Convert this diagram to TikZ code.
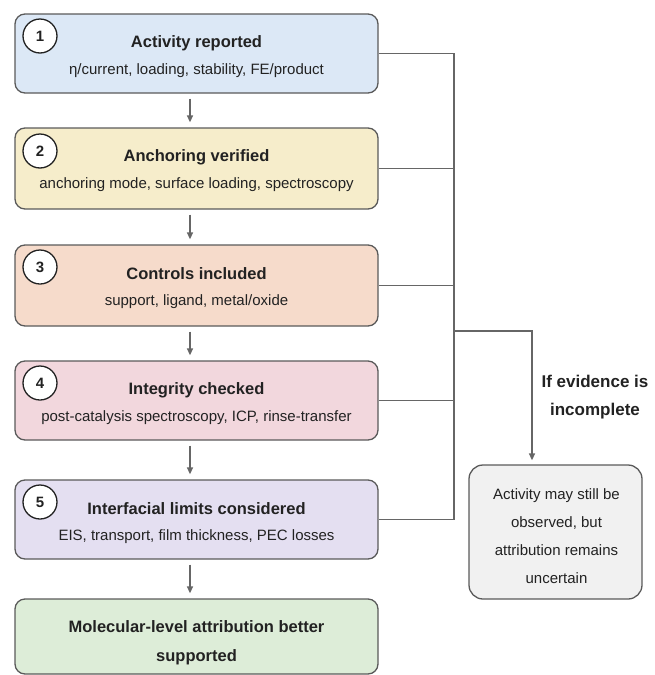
\documentclass[tikz,border=0pt]{standalone}
\usepackage{fontspec}
\setmainfont{Liberation Sans}
\usetikzlibrary{arrows.meta,calc}
\definecolor{cA}{HTML}{DCE8F6}
\definecolor{cB}{HTML}{F6EDCB}
\definecolor{cC}{HTML}{F6DBCB}
\definecolor{cD}{HTML}{F2D7DD}
\definecolor{cE}{HTML}{E4DFF1}
\definecolor{cF}{HTML}{DDEDD8}
\definecolor{cG}{HTML}{F1F1F1}
\definecolor{boxline}{HTML}{5A5A5A}
\definecolor{linec}{HTML}{666666}
\definecolor{txt}{HTML}{222222}
\tikzset{
  stepbox/.style={draw=boxline, line width=1.3pt, rounded corners=10pt, minimum width=363pt, inner sep=0pt},
  numcirc/.style={circle, draw=txt, fill=white, line width=1.3pt, minimum size=34pt, inner sep=0pt, text=txt, font=\fontsize{15}{18}\selectfont\bfseries},
  ttl/.style={font=\fontsize{16.5}{20}\selectfont\bfseries, text=txt, inner sep=0pt},
  sub/.style={font=\fontsize{15}{18}\selectfont, text=txt, inner sep=0pt},
  conn/.style={draw=linec, line width=1.4pt},
  arr/.style={draw=linec, line width=1.4pt, -{Triangle[width=6pt,length=7pt]}},
}
\begin{document}
\begin{tikzpicture}[x=1pt,y=-1pt]
\useasboundingbox (0,0) rectangle (654,675);
% step boxes
\node[stepbox, fill=cA, minimum height=79pt] (b1) at (196.5,53.5) {};
\node[stepbox, fill=cB, minimum height=81pt] (b2) at (196.5,168.5) {};
\node[stepbox, fill=cC, minimum height=81pt] (b3) at (196.5,285.5) {};
\node[stepbox, fill=cD, minimum height=79pt] (b4) at (196.5,400.5) {};
\node[stepbox, fill=cE, minimum height=79pt] (b5) at (196.5,519.5) {};
\node[stepbox, fill=cF, minimum height=75pt] (b6) at (196.5,636.5) {};
% numbers
\node[numcirc] (n1) at (40,36) {1};
\node[numcirc] (n2) at (40,151) {2};
\node[numcirc] (n3) at (40,267) {3};
\node[numcirc] (n4) at (40,383) {4};
\node[numcirc] (n5) at (40,502) {5};
% titles and details
\node[ttl] (t1) at (196.5,43) {Activity reported};
\node[sub] (s1) at (196.5,71) {η/current, loading, stability, FE/product};
\node[ttl] (t2) at (196.5,157) {Anchoring verified};
\node[sub] (s2) at (196.5,185) {anchoring mode, surface loading, spectroscopy};
\node[ttl] (t3) at (196.5,274) {Controls included};
\node[sub] (s3) at (196.5,302) {support, ligand, metal/oxide};
\node[ttl] (t4) at (196.5,390) {Integrity checked};
\node[sub] (s4) at (196.5,418) {post-catalysis spectroscopy, ICP, rinse-transfer};
\node[ttl] (t5) at (196.5,509) {Interfacial limits considered};
\node[sub] (s5) at (196.5,537) {EIS, transport, film thickness, PEC losses};
\node[ttl, align=center, font=\fontsize{16.5}{29}\selectfont\bfseries] (t6) at (196.5,643) {Molecular-level attribution better\\supported};
% outcome box
\node[draw=boxline, fill=cG, line width=1.3pt, rounded corners=14pt, minimum width=173pt, minimum height=134pt, inner sep=0pt] (g) at (555.5,532) {};
\node[align=center, text=txt, inner sep=0pt, font=\fontsize{15}{28}\selectfont] (gt) at (556.5,536) {Activity may still be\\observed, but\\attribution remains\\uncertain};
% label
\node[align=center, text=txt, inner sep=0pt, font=\fontsize{17}{28}\selectfont\bfseries] (lab) at (595,397) {If evidence is\\incomplete};
% connectors
\coordinate (ax) at (190,0);
\coordinate (bus) at (454,0);
\coordinate (br) at (532,331);
\foreach \a/\b in {b1/b2,b2/b3,b3/b4,b4/b5,b5/b6}
  \draw[arr, shorten <=5pt, shorten >=5pt] (\a.south -| ax) -- (\b.north -| ax);
\draw[conn, line join=miter] (b1.east) -- (b1.east -| bus) -- (b5.east -| bus) -- (b5.east);
\foreach \a in {b2,b3,b4}
  \draw[conn] (\a.east) -- (\a.east -| bus);
\draw[arr, line join=miter, shorten >=4pt] (br -| bus) -- (br) -- (g.north -| br);
\end{tikzpicture}
\end{document}
